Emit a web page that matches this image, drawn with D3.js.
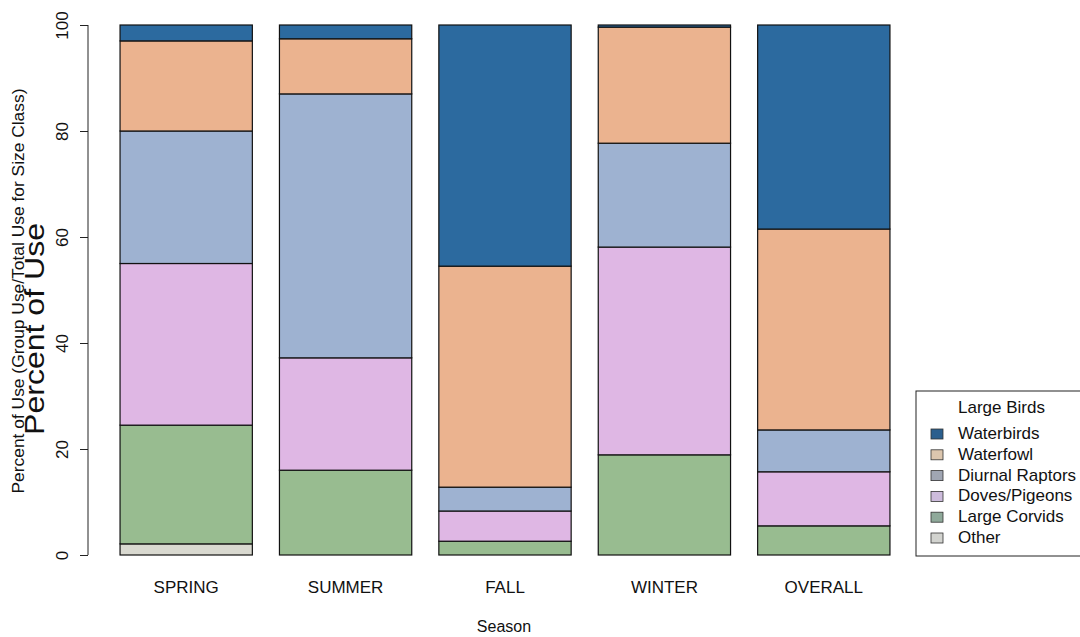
<!DOCTYPE html>
<html>
<head>
<meta charset="utf-8">
<script src="https://cdn.jsdelivr.net/npm/d3@7"></script>
<style>
  body { margin: 0; background: #fff; }
  svg { display: block; }
  text { font-family: "Liberation Sans", Arial, sans-serif; fill: #111; }
</style>
</head>
<body>
<svg id="chart" width="1080" height="637"></svg>
<script>
const seasons = ["SPRING", "SUMMER", "FALL", "WINTER", "OVERALL"];
const groups = ["Other", "Large Corvids", "Doves/Pigeons", "Diurnal Raptors", "Waterfowl", "Waterbirds"];
const other          = [2.1, 0, 0, 0, 0];
const largeCorvids   = [22.4, 16.0, 2.6, 18.9, 5.5];
const dovesPigeons   = [30.5, 21.2, 5.7, 39.2, 10.2];
const diurnalRaptors = [25.0, 49.8, 4.5, 19.6, 7.9];
const waterfowl      = [17.0, 10.4, 41.7, 21.9, 37.9];
const waterbirds     = [3.0, 2.6, 45.5, 0.4, 38.5];
const yTicks = [0, 20, 40, 60, 80, 100];
const legendOrder = ["Waterbirds", "Waterfowl", "Diurnal Raptors", "Doves/Pigeons", "Large Corvids", "Other"];

const series = {
  "Other": other, "Large Corvids": largeCorvids, "Doves/Pigeons": dovesPigeons,
  "Diurnal Raptors": diurnalRaptors, "Waterfowl": waterfowl, "Waterbirds": waterbirds
};
const fill = {
  "Waterbirds": "#2c6a9f", "Waterfowl": "#ebb38f", "Diurnal Raptors": "#9eb2d1",
  "Doves/Pigeons": "#dfb7e4", "Large Corvids": "#98bc90", "Other": "#d9d9d0"
};
const legendFill = {
  "Waterbirds": "#2b5f8e", "Waterfowl": "#dcc6ae", "Diurnal Raptors": "#a0a6b3",
  "Doves/Pigeons": "#cdbcdc", "Large Corvids": "#8fa99a", "Other": "#d2d3cf"
};

const table = seasons.map((s, i) => {
  const row = { season: s };
  groups.forEach(g => row[g] = series[g][i]);
  return row;
});

const svg = d3.select("#chart");
const x = d3.scaleBand().domain(seasons).range([106.5, 903.5]).paddingInner(0.17).paddingOuter(0.085);
const y = d3.scaleLinear().domain([0, 100]).range([555, 25]);

const stacked = d3.stack().keys(groups)(table);

const layers = svg.append("g").selectAll("g").data(stacked).join("g")
  .attr("fill", d => fill[d.key]);
layers.selectAll("rect").data(d => d)
  .join("rect")
  .attr("x", d => x(d.data.season))
  .attr("width", x.bandwidth())
  .attr("y", d => y(d[1]))
  .attr("height", d => Math.max(0, y(d[0]) - y(d[1])))
  .attr("stroke", "#111")
  .attr("stroke-width", 1.2)
  .attr("display", d => (d[1] - d[0]) > 0 ? null : "none");

// y axis
const axisG = svg.append("g").attr("transform", "translate(88,0)");
const yAxis = d3.axisLeft(y).tickValues(yTicks).tickSize(8).tickSizeOuter(0).tickFormat(d3.format("d"));
axisG.call(yAxis);
axisG.select(".domain").attr("stroke", "#222").attr("d", `M0,${y(0)}V${y(100)}`);
axisG.selectAll(".tick line").attr("stroke", "#222");
axisG.selectAll(".tick text")
  .attr("font-size", 17)
  .attr("font-family", "Liberation Sans, Arial, sans-serif")
  .attr("fill", "#222")
  .attr("x", 0).attr("y", 0).attr("dy", null)
  .attr("text-anchor", "middle")
  .attr("transform", "translate(-20,0) rotate(-90)");

// x labels
svg.append("g").selectAll("text").data(seasons).join("text")
  .attr("x", d => x(d) + x.bandwidth() / 2)
  .attr("y", 593)
  .attr("text-anchor", "middle")
  .attr("font-size", 17)
  .text(d => d);

svg.append("text").attr("x", 504).attr("y", 632).attr("text-anchor", "middle")
  .attr("font-size", 16).text("Season");

// y labels
svg.append("text").attr("transform", "translate(24,291) rotate(-90)")
  .attr("text-anchor", "middle").attr("font-size", 17.4)
  .text("Percent of Use (Group Use/Total Use for Size Class)");
svg.append("text").attr("transform", "translate(44,329) rotate(-90)")
  .attr("text-anchor", "middle").attr("font-size", 27)
  .attr("textLength", 212).attr("lengthAdjust", "spacingAndGlyphs")
  .text("Percent of Use");

// legend
const lg = svg.append("g");
lg.append("rect").attr("x", 916).attr("y", 391).attr("width", 200).attr("height", 165)
  .attr("fill", "#fff").attr("stroke", "#222").attr("stroke-width", 1);
lg.append("text").attr("x", 958).attr("y", 413)
  .attr("font-size", 17).text("Large Birds");
const items = lg.selectAll("g.item").data(legendOrder).join("g").attr("class", "item")
  .attr("transform", (d, i) => `translate(0,${433 + i * 20.8})`);
items.append("rect").attr("x", 931).attr("y", -4).attr("width", 12).attr("height", 10)
  .attr("fill", d => legendFill[d]).attr("stroke", "#333").attr("stroke-width", 0.8);
items.append("text").attr("x", 958).attr("y", 6).attr("font-size", 17).text(d => d);
</script>
</body>
</html>
